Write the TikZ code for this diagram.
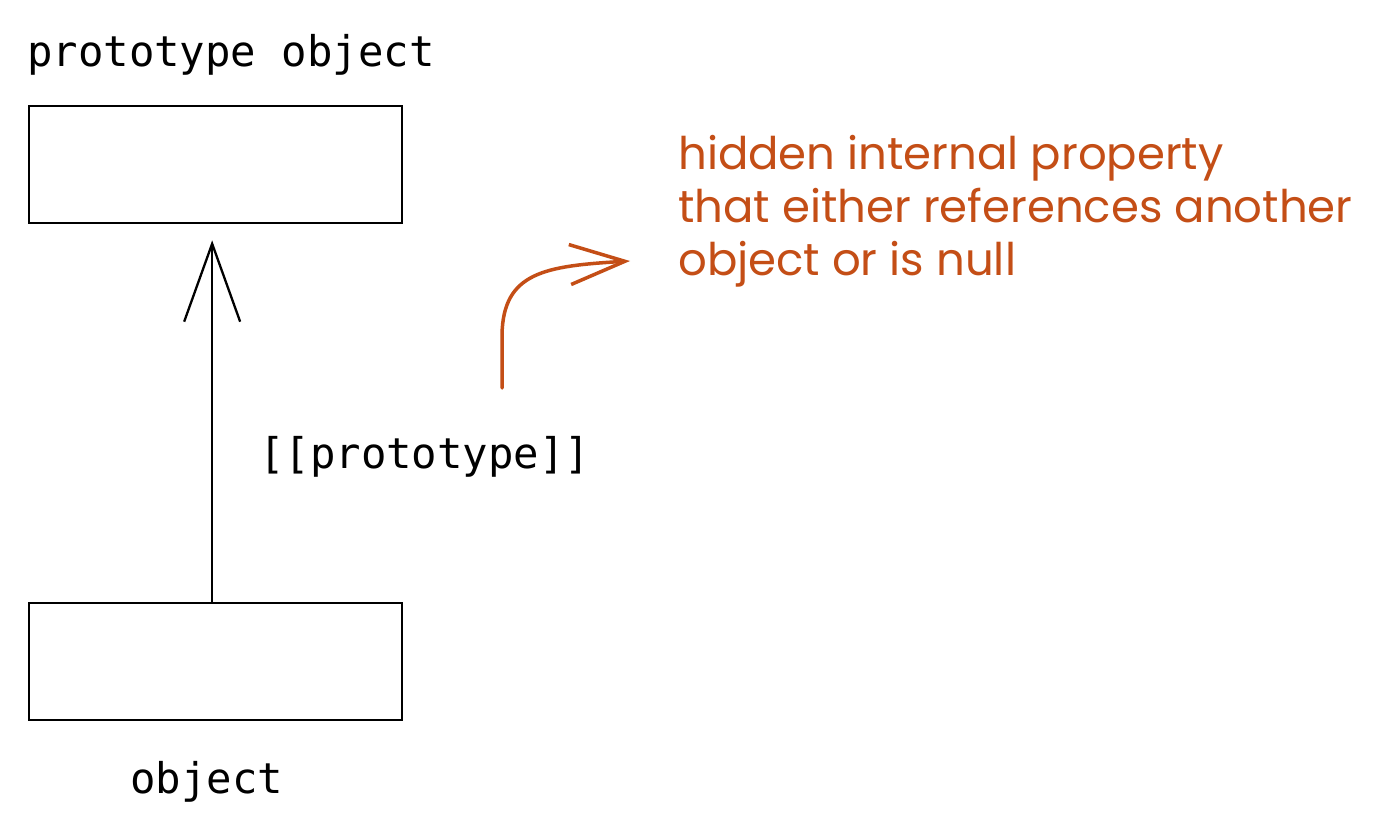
\documentclass[tikz,border=0pt]{standalone}
\usepackage{fontspec}
\newfontfamily\codefont{DejaVu Sans Mono}
\newfontfamily\handfont{Poppins}
\usetikzlibrary{arrows.meta}
\definecolor{annot}{RGB}{196,78,22}
\tikzset{
  objbox/.style={draw=black, line width=2.3pt, minimum width=373pt, minimum height=117pt, inner sep=0pt, anchor=north west},
  codetext/.style={inner sep=0pt, anchor=base west, font=\fontsize{42.3}{50}\selectfont\codefont},
  handtext/.style={inner sep=0pt, anchor=base west, text=annot, font=\fontsize{45}{55}\selectfont\handfont},
  protoarrow/.style={draw=black, line width=2.3pt, -{Straight Barb[length=78pt,width=56pt,line width=2.3pt]}},
  notearrow/.style={draw=annot, line width=3.5pt, line cap=round, -{Straight Barb[length=55pt,width=40pt,line width=3.5pt]}}
}
\begin{document}
\begin{tikzpicture}[x=1pt,y=-1pt]
\useasboundingbox[fill=white] (0,0) rectangle (1400,834);
\node[codetext] (ptitle) at (27,67) {prototype object};
\node[objbox] (top) at (28,105) {};
\node[objbox] (bot) at (28,602) {};
\node[codetext] (otitle) at (130,793) {object};
\node[codetext] (plabel) at (259,468) {[[prototype]]};
\draw[protoarrow, shorten >=16pt] ([xshift=-3.5pt]bot.north) -- ([xshift=-3.5pt]top.south);
\node[handtext] (n1) at (678,170) {hidden internal property};
\node[handtext] (n2) at (678,223) {that either references another};
\node[handtext] (n3) at (678,276) {object or is null};
\coordinate (cstart) at (502,388);
\coordinate (ctip) at (630,261);
\draw[notearrow] (cstart) -- (502,335) .. controls (503,272) and (545,266) .. (ctip);
\end{tikzpicture}
\end{document}
